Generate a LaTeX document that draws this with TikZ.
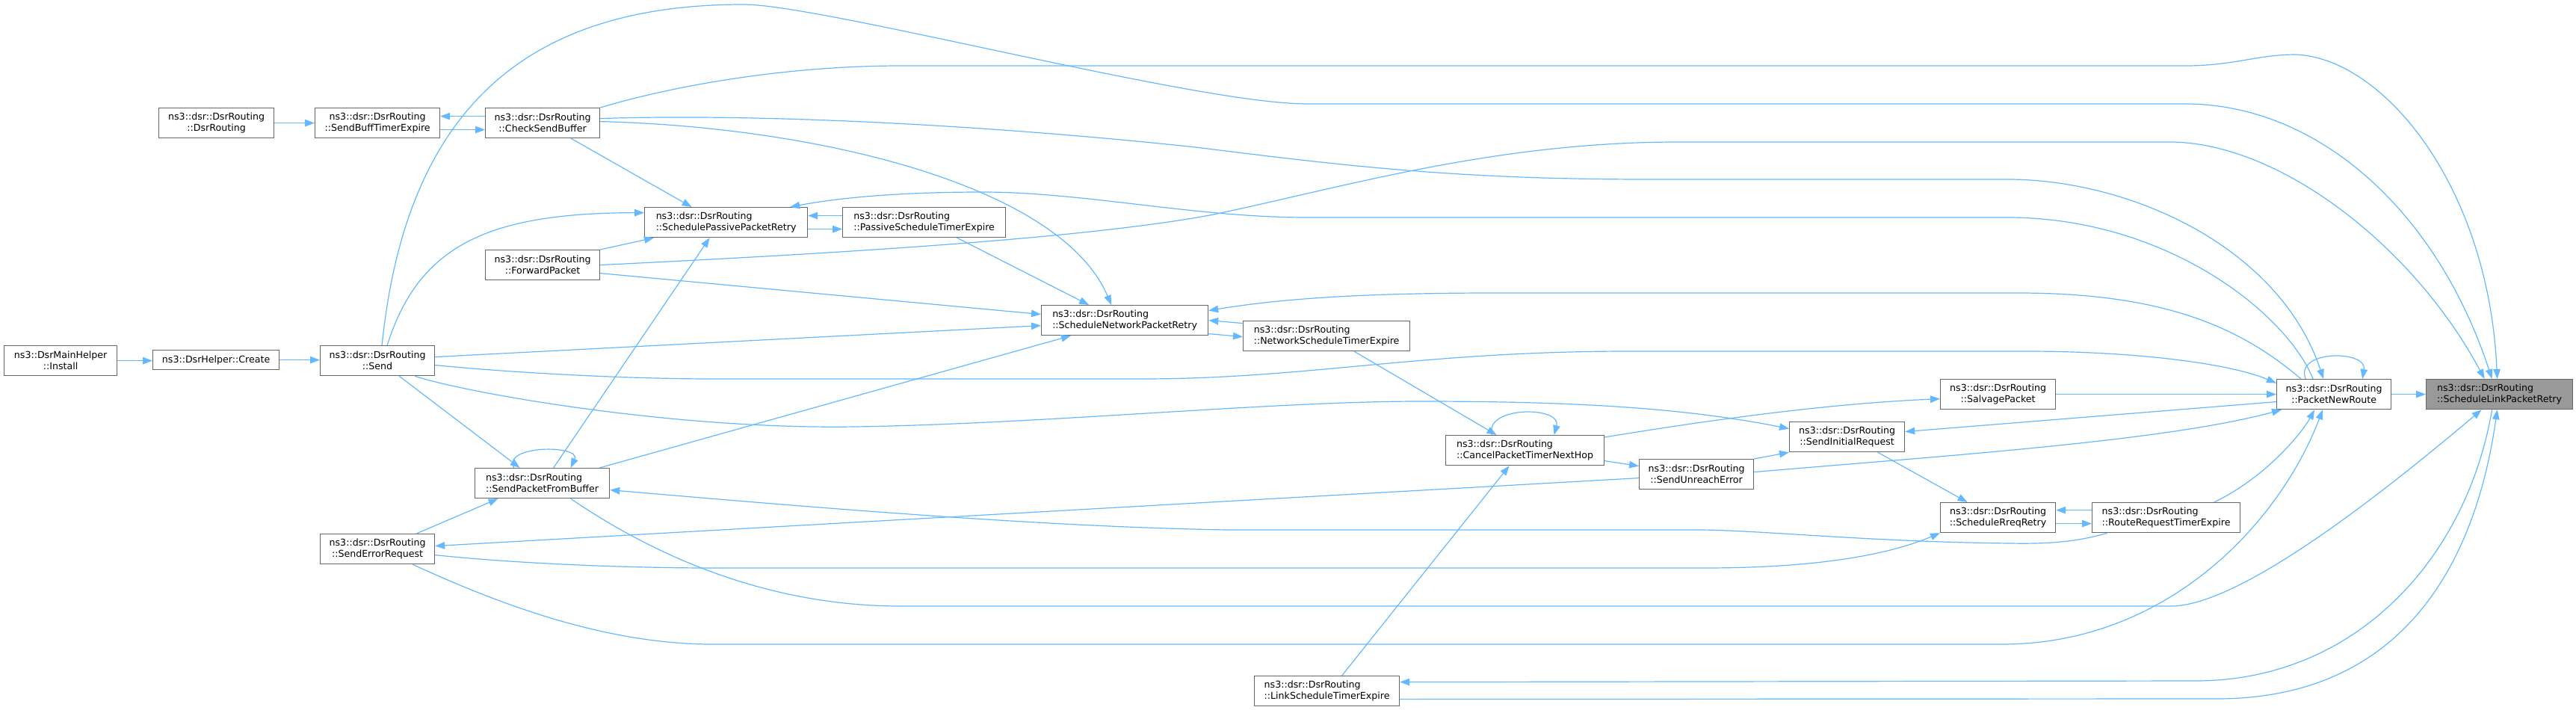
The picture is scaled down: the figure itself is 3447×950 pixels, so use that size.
\documentclass[tikz,border=0pt]{standalone}
\usepackage{fontspec}
\newfontfamily\doxfont{DejaVu Sans}
\usepackage{tikz}
\usetikzlibrary{arrows.meta}
\definecolor{edgeblue}{HTML}{63B8FF}
\definecolor{boxgray}{HTML}{666666}
\definecolor{focusgray}{HTML}{999999}
\newcommand{\doxsize}{\doxfont\fontsize{12.6}{15.2}\selectfont}

\begin{document}
\begin{tikzpicture}[x=1pt, y=-1pt,
  fn/.style={draw=boxgray, line width=1.2pt, fill=white, inner sep=0pt, anchor=north west, align=center, font=\doxsize, minimum height=40pt},
  fnl/.style={fn, align=left},
  focus/.style={fnl, fill=focusgray},
  call/.style={draw=edgeblue, line width=1.2pt, -{Triangle[length=13pt,width=9.5pt]}}]
\useasboundingbox (0,0) rectangle (3447,950);
% functions
\node[fn, minimum width=151pt] (install) at (5,462) {ns3::DsrMainHelper\\::Install};
\node[fn, minimum width=169pt, minimum height=26pt] (create) at (204,468) {ns3::DsrHelper::Create};
\node[fn, minimum width=153pt] (send) at (428,462) {ns3::dsr::DsrRouting\\::Send};
\node[fn, minimum width=153pt] (ser) at (428,714) {ns3::dsr::DsrRouting\\::SendErrorRequest};
\node[fnl, minimum width=180pt] (spfb) at (635,626) {ns3::dsr::DsrRouting\\::SendPacketFromBuffer};
\node[fn, minimum width=154pt] (ctor) at (212,144) {ns3::dsr::DsrRouting\\::DsrRouting};
\node[fn, minimum width=167pt] (sbte) at (421,144) {ns3::dsr::DsrRouting\\::SendBuffTimerExpire};
\node[fn, minimum width=153pt] (csb) at (649,144) {ns3::dsr::DsrRouting\\::CheckSendBuffer};
\node[fn, minimum width=153pt] (fwd) at (649,334) {ns3::dsr::DsrRouting\\::ForwardPacket};
\node[fnl, minimum width=218pt] (sppr) at (862,277) {ns3::dsr::DsrRouting\\::SchedulePassivePacketRetry};
\node[fnl, minimum width=218pt] (pste) at (1127,277) {ns3::dsr::DsrRouting\\::PassiveScheduleTimerExpire};
\node[fnl, minimum width=223pt] (snpr) at (1393,408) {ns3::dsr::DsrRouting\\::ScheduleNetworkPacketRetry};
\node[fnl, minimum width=223pt] (nste) at (1663,429) {ns3::dsr::DsrRouting\\::NetworkScheduleTimerExpire};
\node[fnl, minimum width=212pt] (cptnh) at (1934,582) {ns3::dsr::DsrRouting\\::CancelPacketTimerNextHop};
\node[fn, minimum width=153pt] (sue) at (2193,614) {ns3::dsr::DsrRouting\\::SendUnreachError};
\node[fn, minimum width=154pt] (sir) at (2394,564) {ns3::dsr::DsrRouting\\::SendInitialRequest};
\node[fn, minimum width=154pt] (salv) at (2596,507) {ns3::dsr::DsrRouting\\::SalvagePacket};
\node[fn, minimum width=154pt] (srr) at (2596,672) {ns3::dsr::DsrRouting\\::ScheduleRreqRetry};
\node[fnl, minimum width=198pt] (rrte) at (2799,672) {ns3::dsr::DsrRouting\\::RouteRequestTimerExpire};
\node[fnl, minimum width=194pt] (lste) at (1678,904) {ns3::dsr::DsrRouting\\::LinkScheduleTimerExpire};
\node[fn, minimum width=153pt] (pnr) at (3046,507) {ns3::dsr::DsrRouting\\::PacketNewRoute};
\node[focus, minimum width=196pt] (slpr) at (3246,507) {ns3::dsr::DsrRouting\\::ScheduleLinkPacketRetry};
% upper left chain
\draw[call] (ctor.east) -- (sbte.west);
\draw[call] ([yshift=9]csb.west) -- ([yshift=9]sbte.east);
\draw[call] ([yshift=-9]sbte.east) -- ([yshift=-9]csb.west);
\draw[call] (install.east) -- (install.east -| create.west);
\draw[call] (create.east) -- (create.east -| send.west);
% from Send
\draw[call] ([xshift=6]send.north) .. controls (545,130) and (720,6) .. (995,6) .. controls (1100,6) and (1600,139) .. (1749,139) -- (2924,139) .. controls (3100,139) and (3260,280) .. ([xshift=-10]slpr.north);
\draw[call] ([xshift=13]send.north) .. controls (560,330) and (650,285) .. ([yshift=13]sppr.west);
\draw[call] ([yshift=5]send.east) -- ([yshift=-7]snpr.west);
\draw[call] ([yshift=-6]send.east) .. controls (700,500) and (850,507) .. (953,507) -- (1527,507) .. controls (1750,507) and (1900,470) .. (2180,470) -- (2711,470) .. controls (2850,470) and (2980,485) .. ([yshift=15]pnr.west);
\draw[call] ([xshift=50]send.south) .. controls (620,525) and (900,575) .. (1144,571) .. controls (1400,567) and (1700,537) .. (1900,537) .. controls (2100,537) and (2250,545) .. ([yshift=11]sir.west);
\draw[call] ([xshift=29]send.south) -- ([xshift=-30]spfb.north);
% CheckSendBuffer and ForwardPacket
\draw[call] (csb.north east) .. controls (900,115) and (1050,88) .. (1206,88) -- (2924,88) .. controls (2990,88) and (3020,73) .. (3072,73) .. controls (3190,78) and (3330,250) .. ([xshift=-3]slpr.north);
\draw[call] ([yshift=6]csb.east) .. controls (1000,152) and (1300,165) .. (1600,197) .. controls (1800,222) and (1950,240) .. (2205,240) -- (2686,240) .. controls (2850,240) and (3050,330) .. ([xshift=-14]pnr.north);
\draw[call] ([yshift=2]csb.east) .. controls (1100,170) and (1420,250) .. ([xshift=-18]snpr.north);
\draw[call] ([xshift=38]csb.south) -- ([xshift=-46]sppr.north);
\draw[call] (fwd.east) .. controls (1100,340) and (1450,320) .. (1624,287) .. controls (1800,250) and (2000,190) .. (2246,190) -- (2903,190) .. controls (3050,190) and (3230,330) .. ([xshift=-20]slpr.north);
\draw[call] ([yshift=-11]fwd.east) -- ([yshift=8]snpr.west);
\draw[call] (fwd.north east) -- ([xshift=13]sppr.south west);
% retry timers
\draw[call] ([yshift=9]pste.west) -- ([yshift=9]sppr.east);
\draw[call] ([yshift=-9]sppr.east) -- ([yshift=-9]pste.west);
\draw[call] ([xshift=44]pste.south) -- ([xshift=-48]snpr.north);
\draw[call] ([yshift=17]nste.west) -- (snpr.east);
\draw[call] ([yshift=-18]snpr.east) -- ([yshift=-1]nste.west);
\draw[call] ([xshift=37]nste.south) -- ([xshift=-38]cptnh.north);
% SendPacketFromBuffer and SendErrorRequest
\draw[call] ([xshift=-38]spfb.north) .. controls (672,595) and (778,595) .. ([xshift=38]spfb.north);
\draw[call] ([xshift=15]spfb.north) -- ([xshift=-22]sppr.south);
\draw[call] ([xshift=-14]spfb.north east) -- ([xshift=40]snpr.south west);
\draw[call] ([xshift=38]spfb.south) .. controls (900,760) and (1050,811) .. (1205,811) -- (2905,811) .. controls (3000,811) and (3200,650) .. ([xshift=-24]slpr.south);
\draw[call] ([xshift=52]ser.north) -- ([xshift=-59]spfb.south);
\draw[call] ([yshift=-8]ser.east) .. controls (700,755) and (850,760) .. (953,760) -- (2280,760) .. controls (2420,760) and (2520,745) .. (srr.south west);
\draw[call] ([xshift=47]ser.south) .. controls (650,800) and (800,862) .. (953,862) -- (2679,862) .. controls (2900,862) and (3050,700) .. ([xshift=-15]pnr.south);
% next hop and route requests
\draw[call] ([xshift=-44]cptnh.north) .. controls (1985,543) and (2090,543) .. ([xshift=39]cptnh.north);
\draw[call] ([yshift=-3]cptnh.north east) .. controls (2300,560) and (2450,540) .. ([yshift=-6]salv.west);
\draw[call] ([yshift=-14]cptnh.east) -- ([yshift=11]sue.west);
\draw[call] (sue.north east) -- (sir.south west);
\draw[call] ([yshift=-5]sue.west) -- ([yshift=4]ser.east);
\draw[call] ([yshift=3]sue.east) .. controls (2600,610) and (2900,590) .. ([xshift=7]pnr.south west);
\draw[call] ([xshift=41]sir.south) -- ([xshift=-41]srr.north);
\draw[call] ([yshift=-8]srr.east) -- ([yshift=-8]rrte.west);
\draw[call] ([yshift=10]rrte.west) -- ([yshift=10]srr.east);
\draw[call] ([xshift=-79]rrte.south) .. controls (2780,725) and (2740,728) .. (2690,727) .. controls (2500,725) and (2350,709) .. (2272,709) -- (1642,709) .. controls (1400,705) and (1100,680) .. ([yshift=-9]spfb.east);
\draw[call] ([xshift=64]rrte.north) .. controls (3030,640) and (3080,580) .. ([xshift=-26]pnr.south);
\draw[call] ([xshift=20]lste.north) -- ([xshift=-21]cptnh.south);
% PacketNewRoute and the focus function
\draw[call] (salv.east) -- (pnr.west);
\draw[call] ([yshift=-10]pnr.west) -- ([yshift=7]sir.east);
\draw[call] ([xshift=-38]pnr.north) .. controls (3070,468) and (3168,468) .. ([xshift=38]pnr.north);
\draw[call] ([xshift=-44]pnr.north) .. controls (3000,440) and (2900,392) .. (2700,392) -- (2000,392) .. controls (1800,392) and (1700,402) .. ([yshift=13]snpr.east);
\draw[call] ([xshift=-28]pnr.north) .. controls (3060,420) and (2900,291) .. (2686,291) -- (1749,291) .. controls (1600,291) and (1450,257) .. (1315,257) .. controls (1200,257) and (1120,265) .. ([xshift=-24]sppr.north east);
\draw[call] (pnr.east) -- (slpr.west);
\draw[call] ([xshift=-10]slpr.south) .. controls (3300,750) and (3150,911) .. (2938,911) -- ([yshift=12]lste.east);
\draw[call] ([yshift=-11]lste.east) -- (2966,935) .. controls (3250,935) and (3320,700) .. ([xshift=-3]slpr.south);
\end{tikzpicture}
\end{document}
